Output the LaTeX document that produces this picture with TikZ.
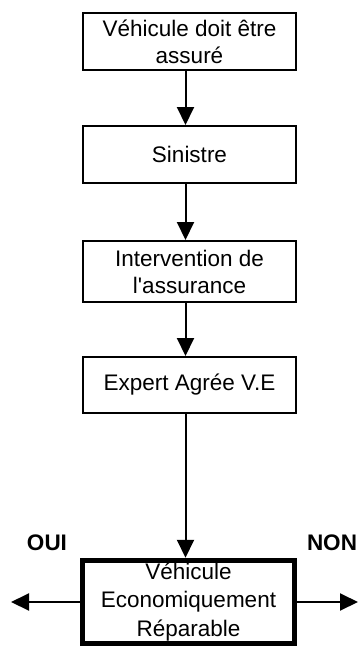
\documentclass[tikz,border=0pt]{standalone}
\usepackage{fontspec}
\setmainfont{Liberation Sans}
\usetikzlibrary{arrows.meta}
\begin{document}
\begin{tikzpicture}[x=1pt,y=1pt,
  stepbox/.style={draw, line width=2pt, minimum width=213pt, inner sep=0pt, align=center,
    font=\fontsize{22.5}{27}\selectfont},
  conn/.style={line width=2pt, -{Triangle[length=18pt,width=17pt]}},
  lbl/.style={font=\fontsize{22.5}{27}\selectfont\bfseries}]
\useasboundingbox (0,0) rectangle (358,-646);
\fill[white] (0,0) rectangle (358,-646);
\node[stepbox, minimum height=57pt] (b1) at (189.5,-41.5) {Véhicule doit être\\assuré};
\node[stepbox, minimum height=57pt] (b2) at (189.5,-154.5) {Sinistre};
\node[stepbox, minimum height=61pt] (b3) at (189.5,-271.5) {Intervention de\\l\textquotesingle assurance};
\node[stepbox, minimum height=56pt] (b4) at (189.5,-385) {Expert Agrée V.E};
\node[stepbox, line width=5.5pt, minimum width=212pt, minimum height=83pt, font=\fontsize{22.5}{28.5}\selectfont] (b5) at (188.5,-602) {Véhicule\\Economiquement\\Réparable};
\node[lbl] (oui) at (47,-543) {OUI};
\node[lbl] (non) at (332,-543) {NON};
\coordinate (lend) at (11,-602);
\coordinate (rend) at (358,-602);
\draw[conn] ([xshift=-4pt]b1.south) -- ([xshift=-4pt]b2.north);
\draw[conn] ([xshift=-4pt]b2.south) -- ([xshift=-4pt]b3.north);
\draw[conn] ([xshift=-4pt]b3.south) -- ([xshift=-4pt]b4.north);
\draw[conn] ([xshift=-4pt]b4.south) -- ([xshift=-3pt]b5.north);
\draw[conn] (b5.west |- lend) -- (lend);
\draw[conn] (b5.east |- rend) -- (rend);
\end{tikzpicture}
\end{document}
